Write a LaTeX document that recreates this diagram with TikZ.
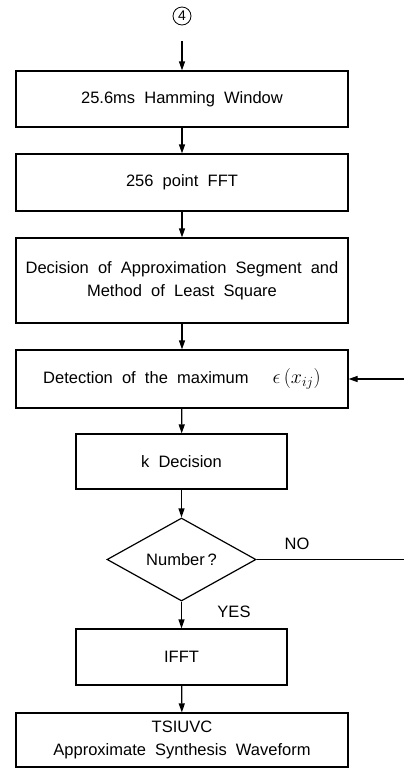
\RequirePackage{fix-cm}
\documentclass[tikz,border=0pt]{standalone}
\usepackage{fontspec}
\setmainfont[WordSpace=2]{Liberation Sans}
\usetikzlibrary{shapes.geometric,arrows.meta}
\begin{document}
\begin{tikzpicture}[x=1pt,y=-1pt,
  box/.style={draw,line width=1.2pt,rectangle,inner sep=0pt,align=center,font=\fontsize{16.5}{23}\selectfont},
  wide/.style={box,minimum width=332pt},
  narrow/.style={box,minimum width=211pt},
  decision/.style={draw,line width=1.2pt,diamond,inner sep=0pt,aspect=1.8,minimum width=149pt,minimum height=83pt,font=\fontsize{16.5}{18}\selectfont},
  arr/.style={-{Triangle[length=9pt,width=6pt]},line width=1.2pt},
  lab/.style={font=\fontsize{16.5}{18}\selectfont,inner sep=0pt},
  circ/.style={draw,circle,line width=0.8pt,minimum size=18pt,inner sep=0pt,font=\rmfamily\fontsize{14}{14}\selectfont}]
\useasboundingbox (0,0) rectangle (404,769);
\node[circ] (in) at (182,16) {4};
\node[wide,minimum height=56pt] (b1) at (182,99) {25.6ms Hamming Window};
\node[wide,minimum height=57pt] (b2) at (182,182.5) {256 point FFT};
\node[wide,minimum height=85pt] (b3) at (182,280.5) {Decision of Approximation Segment and\\Method of Least Square};
\node[wide,minimum height=58pt] (b4) at (182,379) {Detection of the maximum\hspace{24pt}{\fontsize{20}{20}\selectfont$\epsilon\,(x_{ij})$}};
\node[narrow,minimum height=55pt] (b5) at (181.5,461.5) {k Decision};
\node[decision] (d) at (181.5,559.5) {Number\,?};
\node[narrow,minimum height=56pt] (b6) at (181.5,657) {IFFT};
\node[wide,minimum height=54pt] (b7) at (182,740) {TSIUVC\\Approximate Synthesis Waveform};
\node[lab] (no) at (297,544) {NO};
\node[lab] (yes) at (234,612) {YES};
\draw[arr] ([yshift=-16pt]in.south) -- (b1);
\draw[arr] (b1) -- (b2);
\draw[arr] (b2) -- (b3);
\draw[arr] (b3) -- (b4);
\draw[arr] (b4) -- (b5);
\draw[arr] (b5) -- (d);
\draw[arr] (d) -- (b6);
\draw[arr] (b6) -- (b7);
\draw[arr] (d.east) -- (420,559.5) -- (420,379) -- (b4.east);
\end{tikzpicture}
\end{document}
